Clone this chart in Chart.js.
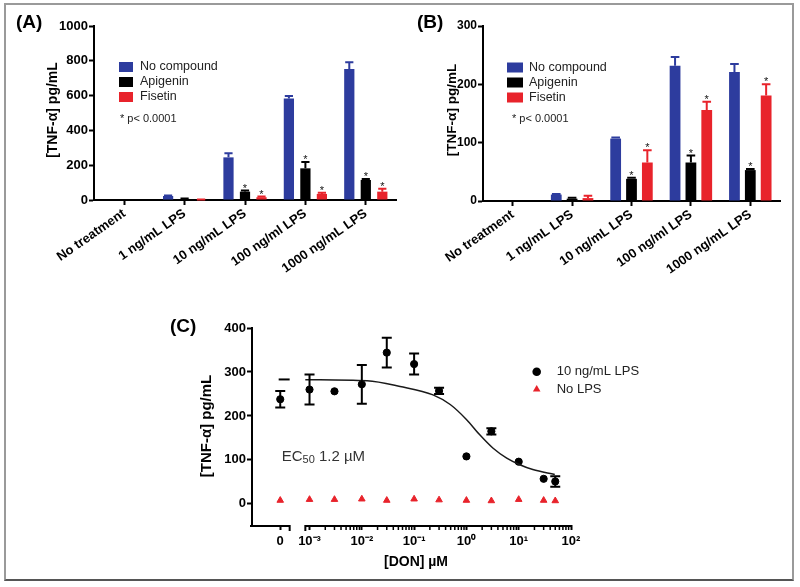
<!DOCTYPE html>
<html><head><meta charset="utf-8">
<script src="https://cdn.jsdelivr.net/npm/chart.js@4/dist/chart.umd.min.js"></script>
<style>
html,body{margin:0;padding:0;background:#fff;}
body{width:800px;height:587px;position:relative;overflow:hidden;}
#frame{position:absolute;left:4px;top:3px;width:786px;height:574px;border:2px solid #9a9a9a;border-bottom-color:#555;}
canvas{position:absolute;}
#cA{left:0;top:0;} #cB{left:400px;top:0;} #cC{left:130px;top:290px;}
</style></head><body>
<div id="frame"></div>
<canvas id="cA" width="400" height="290"></canvas>
<canvas id="cB" width="400" height="290"></canvas>
<canvas id="cC" width="520" height="297"></canvas>
<script>
// ---------------- DATA ----------------
const categories = ['No treatment', '1 ng/mL LPS', '10 ng/mL LPS', '100 ng/ml LPS', '1000 ng/mL LPS'];
const seriesNames = ['No compound', 'Apigenin', 'Fisetin'];
// Panel A
const aNoCompound    = [0, 23, 245, 584, 753];
const aNoCompoundErr = [0, 3, 23, 14, 38];
const aApigenin      = [0, 6, 48, 182, 115];
const aApigeninErr   = [0, 2, 6, 36, 6];
const aFisetin       = [0, 2, 16, 35, 48];
const aFisetinErr    = [0, 1, 4, 7, 17];
const aTicks = [0, 200, 400, 600, 800, 1000];
// Panel B
const bNoCompound    = [0, 11, 107, 232, 221];
const bNoCompoundErr = [0, 1, 2, 15, 14];
const bApigenin      = [0, 4, 38, 66, 53];
const bApigeninErr   = [0, 1.5, 2, 12, 2];
const bFisetin       = [0, 5, 66, 156, 181];
const bFisetinErr    = [0, 4, 21, 14, 19];
const bTicks = [0, 100, 200, 300];
const significant = [false, false, true, true, true];
const pNote = '* p< 0.0001';
// Panel C
const donDoses = [0, 0.001, 0.003, 0.01, 0.03, 0.1, 0.3, 1, 3, 10, 30, 50];
const lps10    = [238, 260, 256, 272, 344, 318, 257, 108, 165, 96, 57, 51];
const lps10Err = [19, 34, 0, 44, 34, 24, 7, 0, 7, 0, 0, 12];
const noLps    = [8, 10, 10, 11, 8, 11, 9, 8, 7, 10, 8, 7];
const fitDoses  = [0.00083, 0.0126, 0.054, 0.23, 0.49, 1.0, 1.8, 3.2, 5.9, 10.5, 18.6, 49];
const fitValues = [282.5, 280, 267, 248, 226, 192, 157, 127, 104, 89, 78, 67];
const fitAtZero = 283;
const cYTicks = [0, 100, 200, 300, 400];
const cXTickLabels = ['0', '10\u207B\u00B3', '10\u207B\u00B2', '10\u207B\u00B9', '10\u2070', '10\u00B9', '10\u00B2'];
const cXDecades = [-3, -2, -1, 0, 1, 2];

// ---------------- STYLE / LAYOUT ----------------
Chart.defaults.font.family = "'Liberation Sans', Arial, Helvetica, sans-serif";
Chart.defaults.color = '#000';
const BLUE = '#2D3C9E', BLACK = '#000000', RED = '#E8232B';
const seriesColors = [BLUE, BLACK, RED];
const ZERO_POS = -3.56, SEG1_END = -3.38, SEG2_START = -3.08;
const toPos = d => d === 0 ? ZERO_POS : Math.log10(d);

const errorBars = {
  id: 'errorBars',
  afterDatasetsDraw(chart) {
    const ctx = chart.ctx, ys = chart.scales.y;
    chart.data.datasets.forEach((ds, i) => {
      if (!ds.errors) return;
      const meta = chart.getDatasetMeta(i);
      meta.data.forEach((el, j) => {
        const raw = ds.data[j];
        const v = typeof raw === 'object' ? raw.y : raw;
        const e = ds.errors[j];
        const top = ys.getPixelForValue(v + (e || 0));
        if (e) {
          const bot = ds.errorBoth ? ys.getPixelForValue(v - e) : el.y;
          const cap = ds.capWidth || el.width * 0.8;
          ctx.save();
          ctx.strokeStyle = ds.errorColor || ds.backgroundColor;
          ctx.lineWidth = 2;
          ctx.beginPath();
          ctx.moveTo(el.x, top); ctx.lineTo(el.x, bot);
          ctx.moveTo(el.x - cap / 2, top); ctx.lineTo(el.x + cap / 2, top);
          if (ds.errorBoth) { ctx.moveTo(el.x - cap / 2, bot); ctx.lineTo(el.x + cap / 2, bot); }
          ctx.stroke();
          ctx.restore();
        }
        if (ds.stars && ds.stars[j]) {
          ctx.save();
          ctx.fillStyle = '#111';
          ctx.font = "11px 'Liberation Sans', Arial, sans-serif";
          ctx.textAlign = 'center'; ctx.textBaseline = 'alphabetic';
          ctx.fillText('*', el.x, top + 1);
          ctx.restore();
        }
      });
    });
  }
};

function makeAnnot(texts) {
  return {
    id: 'annot',
    afterDraw(chart) {
      const ctx = chart.ctx;
      texts.forEach(t => {
        ctx.save();
        ctx.font = t.font; ctx.fillStyle = t.color || '#000';
        ctx.textAlign = t.align || 'left'; ctx.textBaseline = t.baseline || 'middle';
        ctx.translate(t.x, t.y);
        if (t.rotate) ctx.rotate(t.rotate * Math.PI / 180);
        ctx.fillText(t.text, 0, 0);
        ctx.restore();
      });
    }
  };
}

function makeBarLegend(L) {
  return {
    id: 'barLegend',
    afterDraw(chart) {
      const ctx = chart.ctx;
      chart.data.datasets.forEach((ds, i) => {
        const y = L.rows[i];
        ctx.save();
        ctx.fillStyle = ds.backgroundColor;
        ctx.fillRect(L.sqX, y - L.sqH / 2, L.sqW, L.sqH);
        ctx.fillStyle = '#222';
        ctx.font = L.font; ctx.textBaseline = 'middle'; ctx.textAlign = 'left';
        ctx.fillText(ds.label, L.textX, y);
        ctx.restore();
      });
    }
  };
}

function barChart(id, vals, errs, yTicks, cfg) {
  return new Chart(document.getElementById(id), {
    type: 'bar',
    data: {
      labels: categories,
      datasets: seriesNames.map((n, i) => ({
        label: n, data: vals[i], errors: errs[i], stars: i > 0 ? significant : null,
        backgroundColor: seriesColors[i], borderWidth: 0,
        categoryPercentage: cfg.cp, barPercentage: cfg.bp
      }))
    },
    options: {
      responsive: false, animation: false, devicePixelRatio: 1,
      layout: { padding: cfg.pad },
      plugins: { legend: { display: false }, tooltip: { enabled: false } },
      scales: {
        x: {
          grid: { drawOnChartArea: false, offset: false, color: '#000', tickLength: 5, tickWidth: 2 },
          border: { color: '#000', width: 2 },
          ticks: { color: '#000', font: { size: 13, weight: 'bold' }, minRotation: 35, maxRotation: 35, autoSkip: false, padding: 1 },
          afterFit: s => { s.height = cfg.xh; }
        },
        y: {
          min: yTicks[0], max: yTicks[yTicks.length - 1],
          afterBuildTicks: s => { s.ticks = yTicks.map(v => ({ value: v })); },
          grid: { drawOnChartArea: false, color: '#000', tickLength: 5, tickWidth: 2 },
          border: { color: '#000', width: 2 },
          ticks: { color: '#000', font: { size: cfg.ytSize, weight: 'bold' }, padding: 1, callback: v => String(v) },
          afterFit: s => { s.width = cfg.yw; }
        }
      }
    },
    plugins: [errorBars, makeAnnot(cfg.texts), makeBarLegend(cfg.legend)]
  });
}

const titleFont = "bold 19px 'Liberation Sans', Arial, sans-serif";
const yTitleFont = "bold 14px 'Liberation Sans', Arial, sans-serif";
const noteFont = "11px 'Liberation Sans', Arial, sans-serif";
const legFont = "12.5px 'Liberation Sans', Arial, sans-serif";

barChart('cA', [aNoCompound, aApigenin, aFisetin], [aNoCompoundErr, aApigeninErr, aFisetinErr], aTicks, {
  cp: 0.82, bp: 0.62, pad: { left: 0, top: 26, right: 4, bottom: 0 }, xh: 90, yw: 94, ytSize: 13,
  texts: [
    { text: '(A)', x: 16, y: 23, font: titleFont },
    { text: '[TNF-\u03B1] pg/mL', x: 53, y: 110, rotate: -90, align: 'center', font: yTitleFont },
    { text: pNote, x: 120, y: 119, font: noteFont, color: '#222' }
  ],
  legend: { sqX: 119, sqW: 14, sqH: 10, textX: 140, rows: [67, 82, 97], font: legFont }
});

barChart('cB', [bNoCompound, bApigenin, bFisetin], [bNoCompoundErr, bApigeninErr, bFisetinErr], bTicks, {
  cp: 0.8, bp: 0.68, pad: { left: 0, top: 26, right: 20, bottom: 0 }, xh: 89, yw: 83, ytSize: 12,
  texts: [
    { text: '(B)', x: 17, y: 23, font: titleFont },
    { text: '[TNF-\u03B1] pg/mL', x: 52, y: 110, rotate: -90, align: 'center', font: "bold 13.5px 'Liberation Sans', Arial, sans-serif" },
    { text: pNote, x: 112, y: 119, font: noteFont, color: '#222' }
  ],
  legend: { sqX: 107, sqW: 16, sqH: 10, textX: 129, rows: [67.5, 82.5, 97.5], font: legFont }
});

// ---------------- PANEL C ----------------
const brokenAxis = {
  id: 'brokenAxis',
  afterDraw(chart) {
    const { ctx, chartArea: ca, scales: { x } } = chart;
    const y0 = ca.bottom + 1;
    const p1 = x.getPixelForValue(SEG1_END), p2 = x.getPixelForValue(SEG2_START);
    ctx.save();
    ctx.strokeStyle = '#000'; ctx.lineWidth = 2;
    ctx.beginPath();
    ctx.moveTo(ca.left - 2, y0); ctx.lineTo(p1 + 1, y0);
    ctx.moveTo(p2 - 1, y0); ctx.lineTo(ca.right, y0);
    ctx.moveTo(p1, y0); ctx.lineTo(p1, y0 + 5);
    ctx.moveTo(p2, y0); ctx.lineTo(p2, y0 + 5);
    ctx.stroke();
    ctx.lineWidth = 1.5;
    ctx.beginPath();
    cXDecades.slice(0, -1).forEach(d => {
      for (let k = 2; k <= 9; k++) {
        const px = x.getPixelForValue(d + Math.log10(k));
        ctx.moveTo(px, y0); ctx.lineTo(px, y0 + 4);
      }
    });
    ctx.stroke();
    ctx.restore();
  }
};

const cLegend = {
  id: 'cLegend',
  afterDraw(chart) {
    const ctx = chart.ctx;
    const items = [chart.data.datasets[2], chart.data.datasets[3]];
    const rows = [81.7, 99.3];
    items.forEach((ds, i) => {
      const mx = 406.7, my = rows[i];
      ctx.save();
      ctx.fillStyle = ds.backgroundColor;
      ctx.beginPath();
      if (ds.pointStyle === 'triangle') {
        const r = 4.4;
        ctx.moveTo(mx, my - r);
        ctx.lineTo(mx + r * 0.866, my + r * 0.5);
        ctx.lineTo(mx - r * 0.866, my + r * 0.5);
        ctx.closePath();
      } else {
        ctx.arc(mx, my, 4.3, 0, Math.PI * 2);
      }
      ctx.fill();
      ctx.fillStyle = '#222';
      ctx.font = "13px 'Liberation Sans', Arial, sans-serif";
      ctx.textBaseline = 'middle'; ctx.textAlign = 'left';
      ctx.fillText(ds.label, 426.7, my);
      ctx.restore();
    });
  }
};

const ec50Text = {
  id: 'ec50Text',
  afterDraw(chart) {
    const ctx = chart.ctx;
    let x = 151.7; const y = 166.7;
    ctx.save();
    ctx.fillStyle = '#333'; ctx.textBaseline = 'middle'; ctx.textAlign = 'left';
    ctx.font = "15px 'Liberation Sans', Arial, sans-serif";
    ctx.fillText('EC', x, y); x += ctx.measureText('EC').width;
    ctx.font = "11px 'Liberation Sans', Arial, sans-serif";
    ctx.fillText('50', x, y + 3.5); x += ctx.measureText('50').width;
    ctx.font = "15px 'Liberation Sans', Arial, sans-serif";
    ctx.fillText(' 1.2 \u00B5M', x, y);
    ctx.restore();
  }
};

const cTickPositions = [ZERO_POS].concat(cXDecades);

new Chart(document.getElementById('cC'), {
  type: 'scatter',
  data: {
    datasets: [
      { type: 'line', label: 'fit', data: fitDoses.map((d, i) => ({ x: toPos(d), y: fitValues[i] })),
        borderColor: '#1a1a1a', borderWidth: 1.5, pointRadius: 0, cubicInterpolationMode: 'monotone', fill: false },
      { type: 'line', label: 'fit (zero dose)', data: [{ x: ZERO_POS - 0.03, y: fitAtZero }, { x: ZERO_POS + 0.18, y: fitAtZero }],
        borderColor: '#000', borderWidth: 2, pointRadius: 0, fill: false },
      { label: '10 ng/mL LPS', data: donDoses.map((d, i) => ({ x: toPos(d), y: lps10[i] })),
        backgroundColor: '#000', borderColor: '#000', borderWidth: 1, pointStyle: 'circle', pointRadius: 3.6,
        errors: lps10Err, errorBoth: true, capWidth: 10, errorColor: '#000' },
      { label: 'No LPS', data: donDoses.map((d, i) => ({ x: toPos(d), y: noLps[i] })),
        backgroundColor: RED, borderColor: RED, borderWidth: 1, pointStyle: 'triangle', pointRadius: 3.8 }
    ]
  },
  options: {
    responsive: false, animation: false, devicePixelRatio: 1,
    layout: { padding: { left: 0, top: 38, right: 79, bottom: 0 } },
    plugins: { legend: { display: false }, tooltip: { enabled: false } },
    scales: {
      x: {
        type: 'linear', min: -4.1, max: 2,
        afterBuildTicks: s => { s.ticks = cTickPositions.map(v => ({ value: v })); },
        grid: { drawOnChartArea: false, color: '#000', tickLength: 5, tickWidth: 2 },
        border: { display: false },
        ticks: { color: '#000', font: { size: 13, weight: 'bold' }, autoSkip: false, maxRotation: 0, padding: 4,
          callback: (v, i) => cXTickLabels[i] },
        afterFit: s => { s.height = 62; }
      },
      y: {
        min: -48, max: 400,
        afterBuildTicks: s => { s.ticks = cYTicks.map(v => ({ value: v })); },
        grid: { drawOnChartArea: false, color: '#000', tickLength: 5, tickWidth: 2 },
        border: { color: '#000', width: 2 },
        ticks: { color: '#000', font: { size: 13, weight: 'bold' }, padding: 1 },
        afterFit: s => { s.width = 122; }
      }
    }
  },
  plugins: [brokenAxis, errorBars, cLegend, ec50Text, makeAnnot([
    { text: '(C)', x: 40, y: 37, font: titleFont },
    { text: '[TNF-\u03B1] pg/mL', x: 77, y: 136, rotate: -90, align: 'center', font: "bold 15px 'Liberation Sans', Arial, sans-serif" },
    { text: '[DON] \u00B5M', x: 286, y: 272, align: 'center', font: "bold 14px 'Liberation Sans', Arial, sans-serif" }
  ])]
});
</script>
</body></html>
